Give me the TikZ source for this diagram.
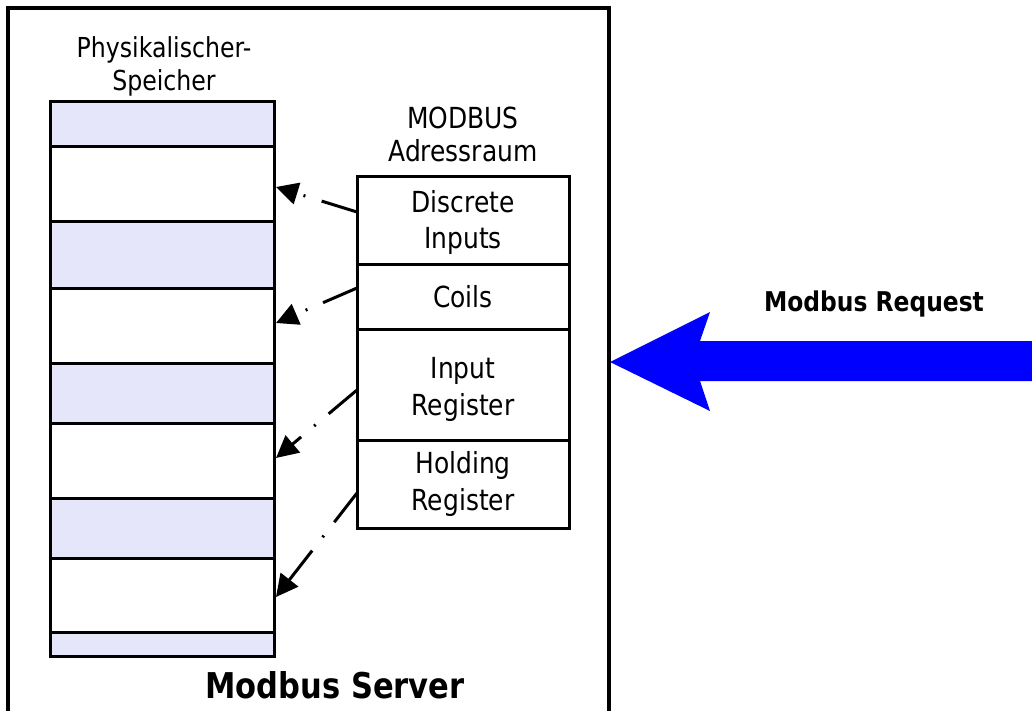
\documentclass[tikz,border=0pt]{standalone}
\usepackage{fontspec}
\setmainfont{DejaVu Sans}[FakeStretch=0.86]
\usetikzlibrary{arrows.meta}
\definecolor{memfill}{RGB}{230,230,250}
\definecolor{reqblue}{RGB}{0,0,255}
\begin{document}
\begin{tikzpicture}[x=1pt,y=-1pt,
  frame/.style={line width=3.5pt},
  memcell/.style={draw,line width=3pt,minimum width=224pt,inner sep=0pt},
  memband/.style={memcell,fill=memfill},
  addrcell/.style={draw,line width=3pt,minimum width=212pt,inner sep=0pt,
    align=center,font=\fontsize{29}{36.5}\selectfont},
  lbl/.style={align=center,inner sep=0pt,font=\fontsize{29}{33}\selectfont},
  link/.style={line width=3pt,dash pattern=on 37pt off 17pt on 2pt off 17pt,
    -{Triangle[length=22pt,width=22pt]}},
]
\useasboundingbox (0,0) rectangle (1032,710);

% server frame (open at the bottom)
\draw[frame] (8,716) -- (8,8) -- (609,8) -- (609,716);

% physical memory column
\node[memband,minimum height=45pt] (m1) at (162,123.5) {};
\node[memcell,minimum height=75pt] (m2) at (162,183.5) {};
\node[memband,minimum height=67pt] (m3) at (162,254.5) {};
\node[memcell,minimum height=75pt] (m4) at (162,325.5) {};
\node[memband,minimum height=60pt] (m5) at (162,393) {};
\node[memcell,minimum height=75pt] (m6) at (162,460.5) {};
\node[memband,minimum height=60pt] (m7) at (162,528) {};
\node[memcell,minimum height=74pt] (m8) at (162,595) {};
\node[memband,minimum height=24pt] (m9) at (162,644) {};
\node[lbl,font=\fontsize{27.5}{33}\selectfont] (phys) at (164,66) {Physikalischer-\\Speicher};

% MODBUS address space
\node[lbl] (addr) at (463,134) {MODBUS\\Adressraum};
\node[addrcell,minimum height=88pt] (di) at (463,220) {\rule{0pt}{27pt}Discrete\\Inputs};
\node[addrcell,minimum height=65pt] (co) at (463,296.5) {Coils};
\node[addrcell,minimum height=111pt] (ir) at (463,384.5) {\rule{0pt}{31pt}Input\\Register};
\node[addrcell,minimum height=88pt] (hr) at (463,484) {Holding\\Register};

% mapping onto the physical memory
\coordinate (s1) at (357,212); \coordinate (t1) at (276,187);
\coordinate (s2) at (357,288); \coordinate (t2) at (276,323);
\coordinate (s3) at (357,390); \coordinate (t3) at (276,458);
\coordinate (s4) at (357,493); \coordinate (t4) at (276,597);
\draw[link] (s1) -- (t1);
\draw[link] (s2) -- (t2);
\draw[link] (s3) -- (t3);
\draw[link] (s4) -- (t4);

% incoming request
\fill[reqblue] (610,362) -- (710,312) -- (700,341) -- (1040,341)
  -- (1040,381) -- (700,381) -- (710,411) -- cycle;
\node[inner sep=0pt,font=\bfseries\fontsize{27.2}{32}\selectfont] (req) at (874,304) {Modbus Request};

\node[inner sep=0pt,font=\bfseries\fontsize{35.5}{40}\selectfont] (srv) at (335,685) {Modbus Server};
\end{tikzpicture}
\end{document}
